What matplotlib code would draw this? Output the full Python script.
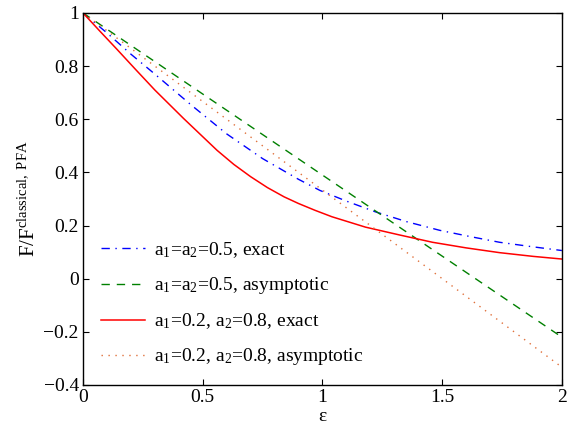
import numpy as np
import matplotlib
matplotlib.use("Agg")
import matplotlib.pyplot as plt

plt.rcParams['font.family'] = ['Liberation Serif', 'DejaVu Serif']
plt.rcParams['mathtext.fontset'] = 'custom'
plt.rcParams['mathtext.rm'] = 'Liberation Serif'
plt.rcParams['mathtext.it'] = 'Liberation Serif:italic'

eps_exact_05 = [0.0, 0.1, 0.2, 0.3, 0.45, 0.6, 0.75, 0.9, 0.99, 1.1, 1.22, 1.35, 1.49, 1.62, 1.74, 1.87, 2.0]
exact_05 = [1.0, 0.925, 0.845, 0.77, 0.655, 0.545, 0.452, 0.374, 0.332, 0.292, 0.252, 0.215, 0.182, 0.158, 0.137, 0.121, 0.106]

eps_asym = [0.0, 2.0]
asym_05 = [1.0, -0.22]
asym_28 = [1.0, -0.333]

eps_exact_28 = [0.0, 0.07, 0.14, 0.22, 0.3, 0.42, 0.56, 0.63, 0.7, 0.77, 0.84, 0.9, 0.97, 1.04, 1.18, 1.32, 1.46, 1.6, 1.74, 1.88, 2.0]
exact_28 = [1.0, 0.932, 0.865, 0.787, 0.71, 0.603, 0.483, 0.43, 0.384, 0.343, 0.308, 0.283, 0.257, 0.233, 0.194, 0.165, 0.137, 0.116, 0.098, 0.084, 0.074]

labels = [r'a$_1$=a$_2$=0.5, exact',
          r'a$_1$=a$_2$=0.5, asymptotic',
          r'a$_1$=0.2, a$_2$=0.8, exact',
          r'a$_1$=0.2, a$_2$=0.8, asymptotic']

fig = plt.figure(figsize=(5.71, 4.30), dpi=100)
ax = fig.add_axes([0.1454, 0.1047, 0.8386, 0.8651])

ax.plot(eps_exact_05, exact_05, color='#0000ff', linestyle=(0, (6, 4, 1, 4)), lw=1.0, label=labels[0])
ax.plot(eps_asym, asym_05, color='#008000', linestyle=(0, (6, 5)), lw=1.0, label=labels[1])
ax.plot(eps_exact_28, exact_28, color='#ff0000', linestyle='-', lw=1.1, label=labels[2])
ax.plot(eps_asym, asym_28, color='#e0703a', linestyle=(0, (1, 4)), lw=1.0, label=labels[3])

ax.set_xlim(0, 2)
ax.set_ylim(-0.4, 1)
ax.set_xticks([0, 0.5, 1, 1.5, 2])
ax.set_xticklabels(['0', '0.5', '1', '1.5', '2'])
ax.set_yticks([-0.4, -0.2, 0, 0.2, 0.4, 0.6, 0.8, 1])
ax.set_yticklabels(['\u22120.4', '\u22120.2', '0', '0.2', '0.4', '0.6', '0.8', '1'])
ax.tick_params(direction='in', length=4, width=0.8, labelsize=14, top=True, right=True, pad=3)
for s in ax.spines.values():
    s.set_linewidth(1.0)

ax.set_xlabel('\u03b5', fontsize=14, labelpad=1)
ax.set_ylabel(r'F/F$^{\mathrm{classical,\ PFA}}$', fontsize=15, labelpad=3)

leg = ax.legend(loc='lower left', bbox_to_anchor=(0.0, 0.0), frameon=False, fontsize=14,
                handlelength=2.3, handletextpad=0.45, labelspacing=0.78, borderaxespad=0.6,
                borderpad=0.3)

fig.savefig('out.png', dpi=100)
